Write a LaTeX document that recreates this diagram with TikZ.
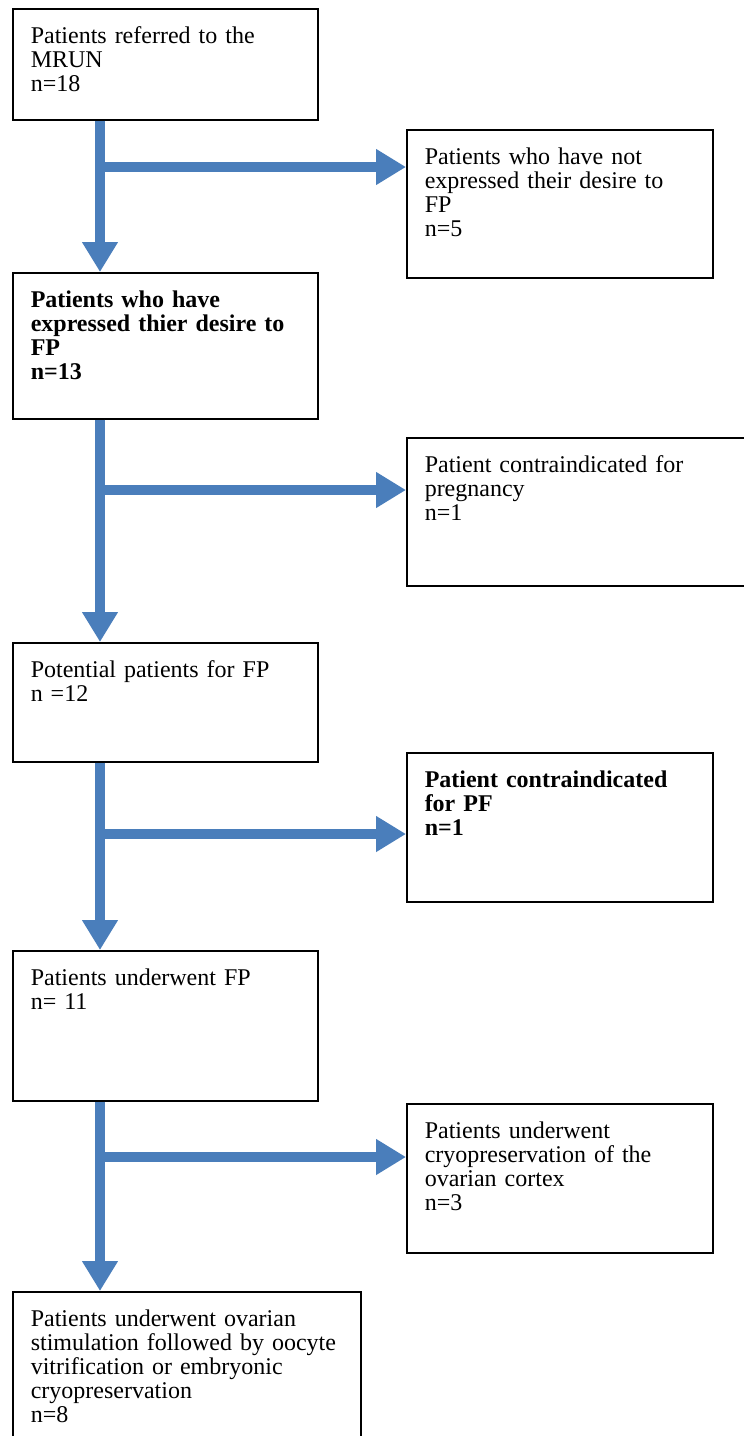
\documentclass[tikz,border=0pt]{standalone}
\usepackage{fontspec}
\setmainfont{Liberation Serif}
\usetikzlibrary{arrows.meta,positioning}
\definecolor{arrowblue}{RGB}{74,126,187}
\tikzset{
  basic/.style = {draw, line width=1.5pt, rectangle, anchor=north west,
                  align=left, inner sep=18pt, text height=17pt,
                  font=\fontsize{24}{24}\selectfont},
  main/.style  = {basic, text width=269pt},
  side/.style  = {basic, text width=270pt},
  flow/.style  = {draw=arrowblue, line width=10pt,
                  -{Triangle[width=34pt,length=30pt]}}
}
\begin{document}
\begin{tikzpicture}[x=1pt,y=-1pt]
\useasboundingbox (0,0) rectangle (744,1436);
\clip (0,0) rectangle (744,1436);

% main path on the left, excluded patients on the right
\node[main, text depth=58pt]  (c1) at (12,8)    {Patients referred to the\\ MRUN\\ n=18};
\node[main, text depth=93pt, font=\fontsize{24}{24}\selectfont\bfseries]
                              (c2) at (12,272)  {Patients who have\\ expressed thier desire to\\ FP\\ n=13};
\node[main, text depth=66pt]  (c3) at (12,642)  {Potential patients for FP\\ n =12};
\node[main, text depth=97pt]  (c4) at (12,950)  {Patients underwent FP\\ n= 11};
\node[basic, text width=312pt, text depth=107pt]
                              (c5) at (12,1291) {Patients underwent ovarian\\ stimulation followed by oocyte\\ vitrification or embryonic\\ cryopreservation\\ n=8};

\node[side, text depth=95pt]  (e1) at (406,129)  {Patients who have not\\ expressed their desire to\\ FP\\ n=5};
\node[basic, text width=344pt, text depth=95pt]
                              (e2) at (406,437)  {Patient contraindicated for\\ pregnancy\\ n=1};
\node[side, text depth=96pt, font=\fontsize{24}{24}\selectfont\bfseries]
                              (e3) at (406,752)  {Patient contraindicated\\ for PF\\ n=1};
\node[side, text depth=96pt]  (e4) at (406,1103) {Patients underwent\\ cryopreservation of the\\ ovarian cortex\\ n=3};

\foreach \i/\j in {1/2,2/3,3/4,4/5}
  \draw[flow] ([xshift=88pt]c\i.south west) -- ([xshift=88pt]c\j.north west);

\foreach \i/\d in {1/38,2/53,3/82,4/54} {
  \coordinate (v\i) at ([xshift=88pt]c\i.south west);
  \coordinate (h\i) at ([yshift=-\d pt]e\i.north west);
  \draw[flow] (v\i |- h\i) -- (h\i);
}

\end{tikzpicture}
\end{document}
